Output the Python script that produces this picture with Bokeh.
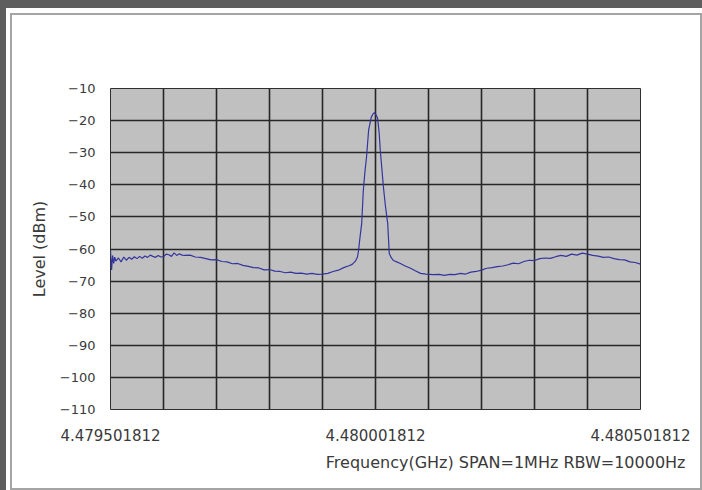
from bokeh.plotting import figure
from bokeh.models import Range1d, FixedTicker, CustomJSTickFormatter, Title
from bokeh.layouts import column
from bokeh.embed import file_html
from bokeh.resources import INLINE

# ---- data ----
freq_start_ghz = 4.479501812
freq_end_ghz = 4.480501812
# offset from start frequency in kHz, and measured level in dBm
offset_khz = [0, 2, 4, 6, 8, 10, 15, 20, 25, 30, 35, 40, 45, 50, 55, 60, 65, 70, 75, 80, 85, 90,
              95, 100, 105, 110, 115, 120, 125, 130, 135, 140, 150, 160, 170, 180, 190, 200,
              210, 220, 230, 240, 250, 260, 270, 280, 290, 300, 310, 320, 330, 340, 350, 360,
              370, 380, 390, 400, 410, 420, 430, 440, 450, 456, 462, 466, 468, 471, 474, 477,
              480, 483, 487, 492, 495, 498, 501, 504, 507, 509, 512, 515, 519, 523, 526, 530,
              534, 540, 547, 555, 566, 575, 585, 595, 609, 620, 630, 640, 650, 660, 670, 680,
              690, 700, 710, 720, 730, 740, 750, 760, 770, 780, 790, 800, 810, 820, 830, 840,
              850, 860, 870, 880, 890, 900, 910, 920, 930, 940, 950, 960, 970, 980, 990, 1000]
level_dbm = [-60.5, -66.5, -62.0, -64.5, -62.5, -63.8, -62.8, -64.0, -62.5, -63.5, -62.6, -63.2,
             -62.4, -63.0, -62.3, -62.9, -62.2, -62.6, -61.9, -62.3, -62.6, -62.0, -62.5, -62.4,
             -61.6, -61.8, -62.3, -61.2, -62.0, -61.5, -61.9, -62.0, -61.9, -62.5, -62.6, -63.0,
             -63.4, -63.3, -63.9, -64.0, -64.6, -64.5, -65.1, -65.4, -65.8, -65.9, -66.5, -66.4,
             -66.9, -67.0, -67.4, -67.2, -67.6, -67.5, -67.8, -67.6, -67.9, -67.8, -67.6, -67.0,
             -66.6, -65.8, -65.2, -64.8, -63.8, -62.5, -60.5, -56.0, -52.0, -41.8, -36.0, -31.5,
             -23.0, -19.0, -18.0, -17.5, -18.2, -19.3, -24.0, -29.3, -35.0, -40.8, -47.0, -52.0,
             -61.4, -62.8, -63.6, -64.0, -64.5, -65.2, -66.0, -66.8, -67.6, -67.8, -68.0, -67.9,
             -68.2, -67.9, -68.0, -67.6, -67.8, -67.2, -67.0, -66.6, -66.0, -65.8, -65.5, -65.3,
             -64.9, -64.4, -64.6, -63.9, -63.5, -63.6, -63.0, -62.8, -62.9, -62.4, -62.0, -62.3,
             -61.6, -61.9, -61.3, -61.6, -62.0, -62.2, -62.6, -62.5, -63.0, -63.3, -63.4, -64.0,
             -64.2, -64.7]
y_ticks = [-110, -100, -90, -80, -70, -60, -50, -40, -30, -20, -10]
x_tick_labels = ["4.479501812", "", "", "", "", "4.480001812", "", "", "", "", "4.480501812"]
x_label = "Frequency(GHz) SPAN=1MHz RBW=10000Hz"
y_label = "Level (dBm)"

freq_ghz = [freq_start_ghz + k * 1e-6 for k in offset_khz]
x_ticks = [freq_start_ghz + i * (freq_end_ghz - freq_start_ghz) / 10 for i in range(11)]

FONT = "DejaVu Sans"
TXT = "#3a3a3a"

p = figure(width=696, height=482, output_backend="svg", toolbar_location=None,
           x_range=Range1d(freq_start_ghz, freq_end_ghz), y_range=Range1d(-110, -10),
           min_border_left=104, min_border_right=62, min_border_top=80, min_border_bottom=81)
p.background_fill_color = "#c0c0c0"
p.border_fill_color = None
p.outline_line_color = "#303030"
p.outline_line_width = 1

p.xaxis.ticker = FixedTicker(ticks=x_ticks)
p.xaxis.formatter = CustomJSTickFormatter(args=dict(labels=x_tick_labels),
                                          code="return labels[index] || '';")
p.yaxis.ticker = FixedTicker(ticks=y_ticks)
p.yaxis.formatter = CustomJSTickFormatter(code="return tick < 0 ? '\u2212' + Math.abs(tick) : String(tick);")

for ax in (p.xaxis[0], p.yaxis[0]):
    ax.axis_line_color = None
    ax.major_tick_line_color = None
    ax.minor_tick_line_color = None
    ax.major_tick_out = 0
    ax.major_tick_in = 0
    ax.major_label_text_font = FONT
    ax.major_label_text_color = TXT
    ax.axis_label_text_font = FONT
    ax.axis_label_text_color = TXT
    ax.axis_label_text_font_style = "normal"

p.xaxis.major_label_text_font_size = "15px"
p.xaxis.major_label_standoff = 19
p.yaxis.major_label_text_font_size = "13px"
p.yaxis.major_label_standoff = 15
p.yaxis.axis_label = y_label
p.yaxis.axis_label_text_font_size = "16px"
p.yaxis.axis_label_standoff = 8

p.xgrid.grid_line_color = "#262626"
p.xgrid.grid_line_width = 1.6
p.ygrid.grid_line_color = "#262626"
p.ygrid.grid_line_width = 1.6

p.line(freq_ghz, level_dbm, line_color="#34349e", line_width=1.2)

p.add_layout(Title(text=x_label, align="right", offset=-45, text_font=FONT,
                   text_font_size="16px", text_color=TXT, text_font_style="normal",
                   standoff=15), "below")

p.styles = {"background-color": "white",
            "box-shadow": "inset 4px 5px 0 0 white, inset 6px 7px 0 0 #a4a4a4, "
                          "inset -2px -2px 0 0 #a4a4a4"}

root = column(p, width=702, height=490,
              styles={"background-color": "#5e5e5e", "padding": "8px 0px 0px 6px",
                      "box-sizing": "border-box"})

open("out.html", "w").write(file_html(root, INLINE))
